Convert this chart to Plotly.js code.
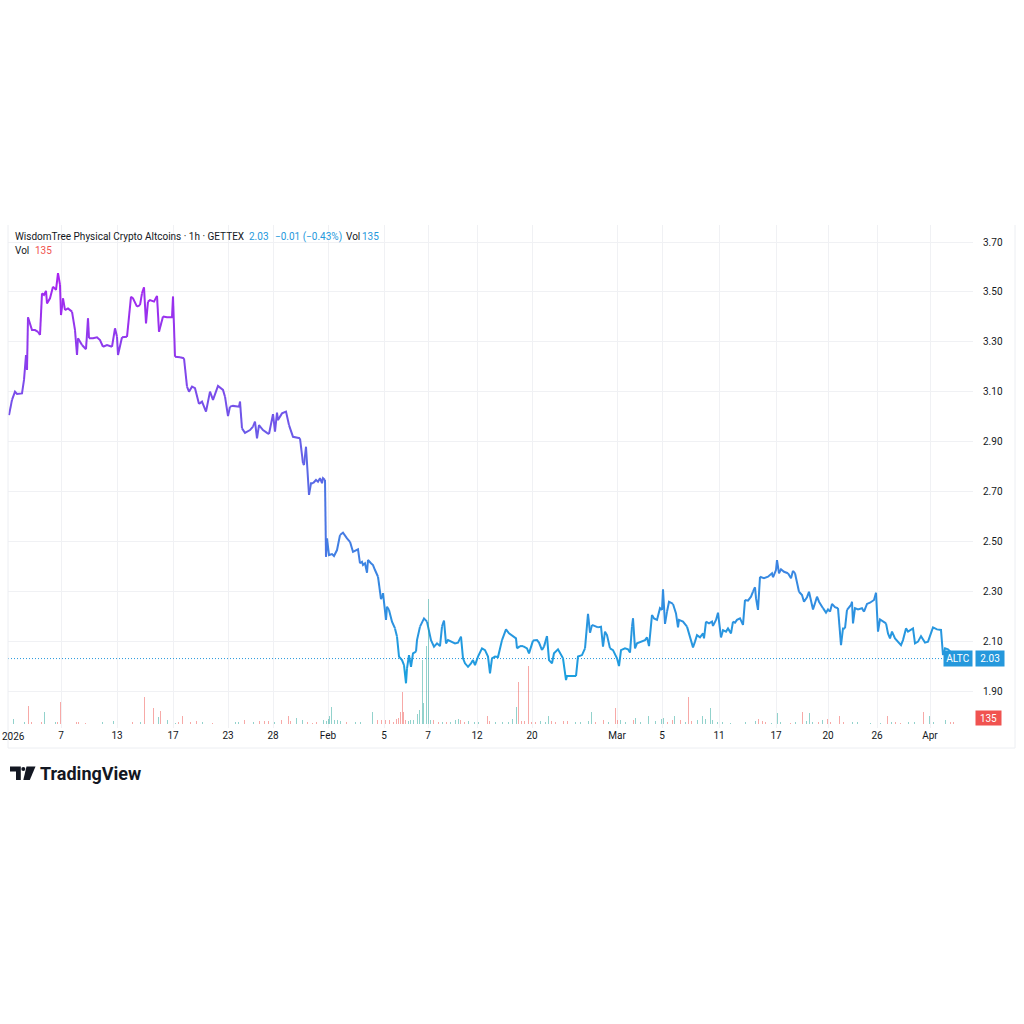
<!DOCTYPE html>
<html>
<head>
<meta charset="utf-8">
<script src="https://cdn.plot.ly/plotly-3.0.1.min.js"></script>
<style>
html,body{margin:0;padding:0;background:#ffffff;}
#chart{width:1024px;height:1024px;}
</style>
</head>
<body>
<div id="chart"></div>
<script>
// ---------- DATA ----------
// bar index (hourly bars, compressed trading time) and close price
const barIdx = [1,4,7,9,14,16,18,19,20,24,27,30,32,34,36,38,39,42,45,48,50,52,53,55,57,60,64,67,69,70,74,78,80,81,85,89,92,95,99,104,107,109,110,114,119,123,125,129,132,134,136,138,140,142,146,149,151,155,159,164,165,167,172,176,179,181,184,187,191,194,198,202,205,210,215,217,220,222,225,231,232,234,237,242,245,247,249,251,255,259,261,265,267,269,270,274,278,281,285,292,295,296,298,301,303,305,308,310,312,314,315,317,318,319,321,324,326,329,332,335,339,342,345,350,352,354,355,357,359,360,363,365,367,370,373,375,378,379,381,384,387,389,391,394,396,398,399,401,403,405,408,409,412,416,419,423,426,429,432,434,436,438,440,444,447,450,453,455,457,460,463,465,467,470,474,477,480,482,484,487,490,494,498,501,505,508,509,512,515,519,521,525,529,531,534,536,539,541,544,546,550,554,555,558,559,565,568,570,574,577,580,582,584,587,590,593,595,597,599,602,605,609,611,613,617,620,622,624,625,627,629,633,637,639,641,644,646,649,652,654,655,657,659,661,665,668,670,671,675,679,682,685,687,689,692,695,696,698,701,704,705,708,710,713,715,718,720,723,725,727,729,732,735,737,740,743,745,747,748,750,752,756,760,764,765,768,769,771,773,776,780,783,785,787,789,791,794,796,799,801,805,807,809,811,815,818,820,822,824,827,830,833,835,837,839,843,844,845,847,850,854,856,859,862,866,868,870,872,875,878,880,882,884,887,890,893,895,898,900,905,907,910,913,915,917,920,923,925,929,933,935,937,940,944,945];
const closePrice = [3.006,3.067,3.100,3.091,3.093,3.147,3.247,3.187,3.398,3.347,3.347,3.340,3.327,3.494,3.488,3.504,3.454,3.474,3.521,3.508,3.575,3.528,3.407,3.474,3.427,3.434,3.421,3.347,3.247,3.314,3.287,3.270,3.394,3.314,3.314,3.318,3.307,3.280,3.287,3.280,3.354,3.320,3.247,3.318,3.320,3.481,3.474,3.441,3.447,3.494,3.518,3.374,3.461,3.467,3.461,3.484,3.340,3.401,3.398,3.398,3.481,3.240,3.238,3.234,3.120,3.100,3.120,3.114,3.051,3.060,3.020,3.100,3.067,3.123,3.107,3.080,3.002,3.040,3.043,3.040,3.060,2.953,2.935,2.946,2.960,2.980,2.913,2.966,2.946,2.935,2.930,3.010,2.940,3.016,2.986,3.013,3.020,2.966,2.919,2.913,2.813,2.806,2.879,2.686,2.733,2.733,2.746,2.739,2.753,2.733,2.753,2.746,2.438,2.512,2.445,2.449,2.441,2.465,2.525,2.535,2.512,2.498,2.458,2.468,2.412,2.418,2.405,2.412,2.374,2.425,2.412,2.405,2.385,2.358,2.268,2.292,2.185,2.238,2.225,2.178,2.151,2.118,2.038,2.024,2.004,1.931,1.991,2.044,1.997,2.051,2.058,2.104,2.158,2.191,2.178,2.104,2.078,2.091,2.080,2.158,2.182,2.091,2.104,2.098,2.091,2.094,2.118,2.031,2.011,1.997,2.011,2.024,2.004,2.038,2.071,2.064,2.038,1.971,2.031,2.038,2.036,2.104,2.147,2.131,2.118,2.111,2.071,2.080,2.080,2.071,2.051,2.102,2.104,2.094,2.064,2.078,2.120,2.024,2.011,2.051,2.067,2.038,2.031,1.944,1.960,1.960,1.960,2.038,2.044,2.071,2.209,2.134,2.165,2.161,2.155,2.158,2.078,2.138,2.124,2.071,2.064,2.031,2.000,2.064,2.071,2.067,2.054,2.158,2.191,2.071,2.091,2.098,2.104,2.115,2.080,2.205,2.191,2.185,2.232,2.225,2.308,2.169,2.218,2.258,2.249,2.211,2.155,2.185,2.178,2.158,2.118,2.075,2.098,2.124,2.115,2.131,2.111,2.178,2.171,2.178,2.161,2.185,2.214,2.115,2.144,2.138,2.151,2.131,2.178,2.174,2.185,2.191,2.165,2.265,2.262,2.278,2.298,2.316,2.272,2.225,2.358,2.352,2.358,2.372,2.356,2.385,2.425,2.372,2.388,2.378,2.372,2.352,2.382,2.372,2.338,2.298,2.285,2.258,2.276,2.298,2.227,2.252,2.278,2.258,2.232,2.214,2.227,2.218,2.249,2.236,2.232,2.084,2.151,2.151,2.225,2.245,2.258,2.171,2.232,2.227,2.232,2.218,2.249,2.254,2.265,2.294,2.138,2.187,2.178,2.171,2.131,2.111,2.138,2.111,2.098,2.084,2.104,2.151,2.138,2.151,2.091,2.098,2.120,2.104,2.094,2.098,2.131,2.155,2.147,2.145,2.044,2.071,2.067,2.051,2.030];

// volume bars: bar index, volume, direction (1 = up/green, 0 = down/red)
const volIdx = [5,16,20,23,33,36,47,49,52,68,70,77,94,105,124,132,136,145,150,152,159,167,170,174,182,188,194,204,227,230,236,245,251,256,260,266,273,280,282,288,294,299,304,308,315,318,320,321,323,326,329,332,338,347,352,364,369,373,377,381,385,388,390,392,394,395,397,400,402,405,409,411,414,415,418,420,422,425,430,434,438,442,447,450,452,456,460,466,470,479,481,487,494,500,504,508,510,513,516,520,523,527,532,537,540,543,547,555,559,567,572,580,583,587,595,600,607,609,612,617,625,627,632,640,647,653,655,659,664,666,672,677,680,683,689,694,697,702,704,709,714,722,737,747,750,754,757,763,769,772,782,787,794,798,801,804,810,814,819,822,831,835,844,849,862,872,879,883,887,892,900,906,915,921,925,937,942,945];
const volume = [250,115,925,100,135,610,100,100,1100,100,100,75,100,150,100,100,1350,815,365,675,215,75,100,410,135,165,100,85,100,100,200,100,165,150,150,100,215,410,185,315,215,100,75,100,200,150,250,400,850,200,200,150,100,100,100,600,200,200,200,200,100,250,300,625,1600,615,200,150,200,200,525,710,3225,1050,3900,6250,200,200,100,100,100,100,200,250,200,100,150,100,100,400,150,100,100,100,250,865,2135,150,150,2915,100,100,150,100,410,150,100,150,150,100,100,150,600,100,200,100,815,200,200,100,200,335,100,410,150,250,335,100,200,425,200,100,1350,185,200,415,250,800,200,135,100,75,100,185,250,185,100,75,550,100,85,100,600,185,550,100,135,215,250,100,410,100,135,100,75,75,425,135,135,75,100,135,610,425,100,215,135,135];
const volUp = [1,1,0,0,0,1,1,0,0,0,0,0,1,1,0,1,0,0,1,0,1,1,0,0,0,0,1,0,1,1,0,1,0,0,0,1,0,0,0,1,1,0,0,0,1,1,1,1,1,1,1,1,0,1,1,1,0,0,0,0,0,0,0,0,0,0,0,1,1,1,1,1,1,1,1,1,1,0,0,1,0,1,1,1,0,0,1,1,1,0,0,1,1,1,1,1,0,0,0,0,0,0,1,1,1,0,0,0,0,1,1,1,1,0,0,1,0,0,1,1,0,1,1,1,1,1,1,0,0,1,0,1,0,0,1,1,1,1,1,1,1,1,1,1,0,0,0,1,1,1,0,1,0,1,1,1,0,1,0,0,0,0,1,1,1,1,0,1,0,0,1,1,0,1,1,1,0,0];

// axis ticks (the year label sits at the pane's left edge)
const yearTickIdx = 0;
const yearTickText = '2026';
const dateTickIdx = [0,53,109,165,220,265,320,376,420,469,524,609,654,711,768,820,869,922];
const dateTickText = ['','7','13','17','23','28','Feb','5','7','12','20','Mar','5','11','17','20','26','Apr'];
const priceTicks = [1.90,2.10,2.30,2.50,2.70,2.90,3.10,3.30,3.50,3.70];

const lastPrice = 2.03;
const lastVolume = 135;
const symbolTitle = 'WisdomTree Physical Crypto Altcoins · 1h · GETTEX';
const changeText = '−0.01 (−0.43%)';

// ---------- STYLE ----------
const FONT = 'Roboto, "Open Sans", sans-serif';
const TXT = '#131722';
const BLUE = '#2598dc';
const RED = '#f05350';
const GRID = '#f0f1f4';
const TOP_RGB = [170, 34, 240];
const BOT_RGB = [28, 160, 222];
const GAMMA = 1.2;

// pane geometry (pixels of the 1024 page)
const PL = 8, PR = 973, PT = 225, PB = 728;
const px2x = p => (p - PL) / (PR - PL);
const py2y = p => (PB - p) / (PB - PT);

// ---------- TRACES ----------
const traces = [];

// volume
traces.push({
  type: 'bar', x: volIdx, y: volume, yaxis: 'y2', width: 1,
  marker: {color: volUp.map(u => u ? 'rgba(38,166,154,0.5)' : 'rgba(239,83,80,0.5)'), line: {width: 0}},
  hoverinfo: 'skip'
});

// gradient price line (coloured by value), grouped into colour bins
const pMin = Math.min(...closePrice), pMax = Math.max(...closePrice);
const NB = 28;
const bins = Array.from({length: NB}, () => ({x: [], y: [], last: -2}));
for (let i = 0; i < barIdx.length - 1; i++) {
  const mid = (closePrice[i] + closePrice[i + 1]) / 2;
  const t = Math.pow((mid - pMin) / (pMax - pMin), GAMMA);
  const b = Math.max(0, Math.min(NB - 1, Math.round(t * (NB - 1))));
  const bin = bins[b];
  if (bin.last !== i) {
    if (bin.x.length) { bin.x.push(null); bin.y.push(null); }
    bin.x.push(barIdx[i]); bin.y.push(closePrice[i]);
  }
  bin.x.push(barIdx[i + 1]); bin.y.push(closePrice[i + 1]);
  bin.last = i + 1;
}
bins.forEach((bin, b) => {
  if (!bin.x.length) return;
  const t = b / (NB - 1);
  const c = BOT_RGB.map((v, k) => Math.round(v + (TOP_RGB[k] - v) * t));
  traces.push({
    type: 'scatter', mode: 'lines', x: bin.x, y: bin.y, connectgaps: false,
    line: {color: `rgb(${c[0]},${c[1]},${c[2]})`, width: 2}, hoverinfo: 'skip'
  });
});

// ---------- LAYOUT ----------
const pricePerPx = (3.70 - 1.90) / (691 - 242);
const yLow = 1.90 - (PB - 691) * pricePerPx;
const yHigh = 3.70 + (242 - PT) * pricePerPx;
const volPerPx = 50;
const volLow = -(PB - 724.3) * volPerPx;
const volHigh = volLow + (PB - PT) * volPerPx;

function ann(text, x, y, opts) {
  return Object.assign({
    text: text, xref: 'paper', yref: 'paper', x: x, y: y,
    xanchor: 'left', yanchor: 'middle', showarrow: false,
    font: {family: FONT, size: 10, color: TXT}, borderpad: 0
  }, opts || {});
}

const annotations = [
  ann(symbolTitle, px2x(13.5), py2y(236.5)),
  ann(lastPrice.toFixed(2), px2x(248), py2y(236.5), {font: {family: FONT, size: 10, color: BLUE}}),
  ann(changeText, px2x(273.5), py2y(236.5), {font: {family: FONT, size: 10, color: BLUE}}),
  ann('Vol', px2x(344.5), py2y(236.5)),
  ann(String(lastVolume), px2x(360.5), py2y(236.5), {font: {family: FONT, size: 10, color: BLUE}}),
  ann('Vol', px2x(13.5), py2y(250)),
  ann(String(lastVolume), px2x(34), py2y(250), {font: {family: FONT, size: 10, color: RED}}),
  // year tick label at the pane's left edge (kept fully on the page)
  {text: yearTickText, xref: 'paper', yref: 'paper', x: px2x(1), y: py2y(736.5), xanchor: 'left', yanchor: 'middle',
   showarrow: false, borderpad: 0, font: {family: FONT, size: 10, color: TXT}},
  // last price labels
  {text: 'ALTC', xref: 'paper', yref: 'y', x: 1, y: lastPrice, xanchor: 'right', yanchor: 'middle',
   showarrow: false, bgcolor: BLUE, width: 28, height: 15, borderpad: 0,
   font: {family: FONT, size: 10, color: '#ffffff'}},
  {text: lastPrice.toFixed(2), xref: 'paper', yref: 'y', x: px2x(975), y: lastPrice, xanchor: 'left', yanchor: 'middle',
   showarrow: false, bgcolor: BLUE, width: 28, height: 15, borderpad: 0,
   font: {family: FONT, size: 10, color: '#ffffff'}},
  {text: String(lastVolume), xref: 'paper', yref: 'paper', x: px2x(975), y: py2y(718), xanchor: 'left', yanchor: 'middle',
   showarrow: false, bgcolor: RED, width: 25, height: 14, borderpad: 0,
   font: {family: FONT, size: 10, color: '#ffffff'}},
  // brand
  ann('TradingView', px2x(39), py2y(773.5), {font: {family: FONT, size: 18, color: TXT, weight: 700}})
];

function pathFromPx(pts) {
  return 'M' + pts.map(p => px2x(p[0]) + ',' + py2y(p[1])).join(' L') + ' Z';
}

const shapes = [
  // last price dotted line
  {type: 'line', xref: 'paper', yref: 'y', x0: 0, x1: 1, y0: lastPrice, y1: lastPrice,
   line: {color: BLUE, width: 1, dash: '1px,2px'}},
  // frame
  {type: 'line', xref: 'paper', yref: 'paper', x0: 0, x1: 0, y0: py2y(748), y1: 1, line: {color: '#eceef2', width: 1}},
  {type: 'line', xref: 'paper', yref: 'paper', x0: 0, x1: px2x(1015), y0: py2y(748), y1: py2y(748), line: {color: '#eceef2', width: 1}},
  {type: 'line', xref: 'paper', yref: 'paper', x0: px2x(1015), x1: px2x(1015), y0: py2y(748), y1: 1, line: {color: '#eceef2', width: 1}},
  // TradingView glyph
  {type: 'path', xref: 'paper', yref: 'paper', fillcolor: TXT, line: {width: 0},
   path: pathFromPx([[10,766.5],[20.8,766.5],[20.8,780],[16,780],[16,771.5],[10,771.5]])},
  {type: 'circle', xref: 'paper', yref: 'paper', fillcolor: TXT, line: {width: 0},
   x0: px2x(21.3), x1: px2x(25.3), y0: py2y(771), y1: py2y(767)},
  {type: 'path', xref: 'paper', yref: 'paper', fillcolor: TXT, line: {width: 0},
   path: pathFromPx([[26.5,766.5],[35.5,766.5],[29.8,780],[23.3,780]])}
];

const layout = {
  width: 1024, height: 1024,
  margin: {l: PL, r: 1024 - PR, t: PT, b: 1024 - PB, pad: 0},
  paper_bgcolor: '#ffffff', plot_bgcolor: '#ffffff',
  showlegend: false, bargap: 0,
  font: {family: FONT, size: 10, color: TXT},
  xaxis: {
    range: [0, PR - PL], tickmode: 'array', tickvals: dateTickIdx, ticktext: dateTickText,
    showgrid: true, gridcolor: GRID, gridwidth: 1, zeroline: false, showline: false,
    ticks: '', ticklen: 0,
    tickfont: {family: FONT, size: 10, color: TXT}, fixedrange: true
  },
  yaxis: {
    side: 'right', range: [yLow, yHigh], tickmode: 'array', tickvals: priceTicks, tickformat: '.2f',
    showgrid: true, gridcolor: GRID, gridwidth: 1, zeroline: false, showline: false,
    ticks: 'outside', ticklen: 7, tickcolor: 'rgba(0,0,0,0)',
    tickfont: {family: FONT, size: 10, color: TXT}, fixedrange: true
  },
  yaxis2: {overlaying: 'y', range: [volLow, volHigh], visible: false, showgrid: false, zeroline: false, fixedrange: true},
  annotations: annotations,
  shapes: shapes
};

Plotly.newPlot('chart', traces, layout, {displayModeBar: false, staticPlot: true});
</script>
</body>
</html>
